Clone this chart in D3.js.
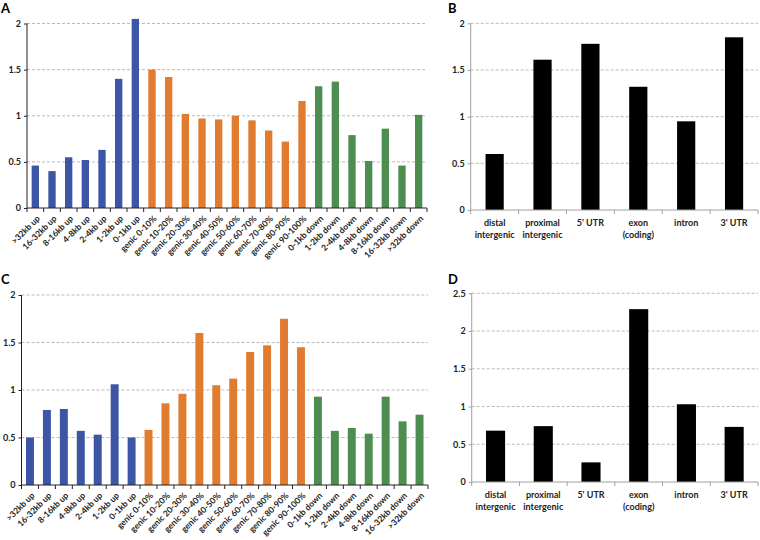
<html>
<head>
<meta charset="utf-8">
<script src="https://d3js.org/d3.v7.min.js"></script>
<style>
  body { margin: 0; background: #fff; }
  text { font-family: Lato, "Open Sans", sans-serif; }
</style>
</head>
<body>
<div id="chart"></div>
<script>
// region categories (panels A and C)
var regionCats = [">32kb up", "16-32kb up", "8-16kb up", "4-8kb up", "2-4kb up", "1-2kb up", "0-1kb up",
  "genic 0-10%", "genic 10-20%", "genic 20-30%", "genic 30-40%", "genic 40-50%", "genic 50-60%",
  "genic 60-70%", "genic 70-80%", "genic 80-90%", "genic 90-100%",
  "0-1kb down", "1-2kb down", "2-4kb down", "4-8kb down", "8-16kb down", "16-32kb down", ">32kb down"];
var aValues = [0.46, 0.40, 0.55, 0.52, 0.63, 1.40, 2.05,
  1.50, 1.42, 1.02, 0.97, 0.96, 1.00, 0.95, 0.84, 0.72, 1.16,
  1.32, 1.37, 0.79, 0.51, 0.86, 0.46, 1.01];
var cValues = [0.50, 0.79, 0.80, 0.57, 0.53, 1.06, 0.50,
  0.58, 0.86, 0.96, 1.60, 1.05, 1.12, 1.40, 1.47, 1.75, 1.45,
  0.93, 0.57, 0.60, 0.54, 0.93, 0.67, 0.74];

// feature categories (panels B and D)
var featureCats = ["distal intergenic", "proximal intergenic", "5' UTR", "exon (coding)", "intron", "3' UTR"];
var featureLines = [["distal", "intergenic"], ["proximal", "intergenic"], ["5' UTR"], ["exon", "(coding)"], ["intron"], ["3' UTR"]];
var bValues = [0.60, 1.61, 1.78, 1.32, 0.95, 1.85];
var dValues = [0.68, 0.74, 0.26, 2.29, 1.03, 0.73];

var yTicksAC = [0, 0.5, 1, 1.5, 2];
var yTicksB = [0, 0.5, 1, 1.5, 2];
var yTicksD = [0, 0.5, 1, 1.5, 2, 2.5];

var W = 760, H = 540;
var svg = d3.select("#chart").append("svg")
  .attr("width", W).attr("height", H);

function regionColor(c) {
  if (c.indexOf("up") >= 0) return "#3d55a5";
  if (c.indexOf("genic") >= 0) return "#e07b30";
  return "#4e8d50";
}

function drawPanel(p) {
  var g = svg.append("g");
  var x = d3.scaleBand().domain(p.cats).range([p.x0, p.x1])
    .paddingInner(p.pad).paddingOuter(p.pad / 2);
  var y = d3.scaleLinear().domain([0, p.max]).range([p.yBase, p.yTop]);

  // dashed gridlines
  g.selectAll(".grid").data(p.ticks.filter(function(t) { return t > 0; }))
    .enter().append("line")
    .attr("x1", p.x0).attr("x2", p.x1)
    .attr("y1", function(d) { return y(d); }).attr("y2", function(d) { return y(d); })
    .attr("stroke", "#a8a8a8").attr("stroke-dasharray", "3,2").attr("stroke-width", 0.8);

  // bars
  g.selectAll(".bar").data(p.values).enter().append("rect")
    .attr("x", function(d, i) { return x(p.cats[i]); })
    .attr("y", function(d) { return y(d); })
    .attr("width", x.bandwidth())
    .attr("height", function(d) { return y(0) - y(d); })
    .attr("fill", function(d, i) { return p.color(p.cats[i]); });

  // y axis
  var ya = g.append("g").attr("transform", "translate(" + p.x0 + ",0)")
    .call(d3.axisLeft(y).tickValues(p.ticks).tickSize(3).tickFormat(function(d) { return String(d); }));
  ya.select(".domain").attr("stroke", p.axisColor).attr("d", "M0," + y(0) + "V" + y(p.max));
  ya.selectAll(".tick line").attr("stroke", p.axisColor);
  ya.selectAll(".tick text").attr("fill", "#222").attr("font-size", 9).attr("font-weight", 700)
    .attr("font-family", "Lato, sans-serif");

  // x axis line with ticks at category boundaries
  g.append("line").attr("x1", p.x0).attr("x2", p.x1)
    .attr("y1", y(0)).attr("y2", y(0)).attr("stroke", p.axisColor);
  var step = x.step();
  g.selectAll(".xt").data(d3.range(p.cats.length + 1)).enter().append("line")
    .attr("x1", function(i) { return p.x0 + i * step; })
    .attr("x2", function(i) { return p.x0 + i * step; })
    .attr("y1", y(0)).attr("y2", y(0) + 4)
    .attr("stroke", p.axisColor);

  // x labels
  if (p.rotate) {
    g.selectAll(".xl").data(p.cats).enter().append("text")
      .attr("transform", function(d) {
        return "translate(" + (x(d) + x.bandwidth() / 2 + 3) + "," + (y(0) + 9) + ") rotate(-45)";
      })
      .attr("text-anchor", "end").attr("dy", "0.35em")
      .attr("font-size", 8.5).attr("font-weight", 700).attr("fill", "#222")
      .text(function(d) { return d; });
  } else {
    p.cats.forEach(function(c, i) {
      var t = g.append("text").attr("x", x(c) + x.bandwidth() / 2).attr("y", y(0) + 16)
        .attr("text-anchor", "middle").attr("font-size", 9).attr("font-weight", 700).attr("fill", "#222");
      p.lines[i].forEach(function(l, k) {
        t.append("tspan").attr("x", x(c) + x.bandwidth() / 2).attr("dy", k === 0 ? 0 : 12).text(l);
      });
    });
  }

  // panel letter
  svg.append("text").attr("x", p.lx).attr("y", p.ly)
    .attr("font-family", "Liberation Sans, Arial, sans-serif").attr("font-weight", 700)
    .attr("font-size", 13).attr("fill", "#000").text(p.letter);
}

drawPanel({letter: "A", lx: 1, ly: 13, cats: regionCats, values: aValues, color: regionColor,
  x0: 27, x1: 427, yBase: 208, yTop: 23.5, max: 2, ticks: yTicksAC, pad: 0.56,
  axisColor: "#222", rotate: true});
drawPanel({letter: "C", lx: 1, ly: 284, cats: regionCats, values: cValues, color: regionColor,
  x0: 21.5, x1: 428, yBase: 485, yTop: 295, max: 2, ticks: yTicksAC, pad: 0.53,
  axisColor: "#222", rotate: true});
drawPanel({letter: "B", lx: 448, ly: 13, cats: featureCats, lines: featureLines, values: bValues,
  color: function() { return "#000"; },
  x0: 470.7, x1: 758, yBase: 210, yTop: 23.3, max: 2, ticks: yTicksB, pad: 0.62,
  axisColor: "#a0a0a0", rotate: false});
drawPanel({letter: "D", lx: 448, ly: 284, cats: featureCats, lines: featureLines, values: dValues,
  color: function() { return "#000"; },
  x0: 471.7, x1: 758, yBase: 482, yTop: 293.3, max: 2.5, ticks: yTicksD, pad: 0.6,
  axisColor: "#a0a0a0", rotate: false});
</script>
</body>
</html>
